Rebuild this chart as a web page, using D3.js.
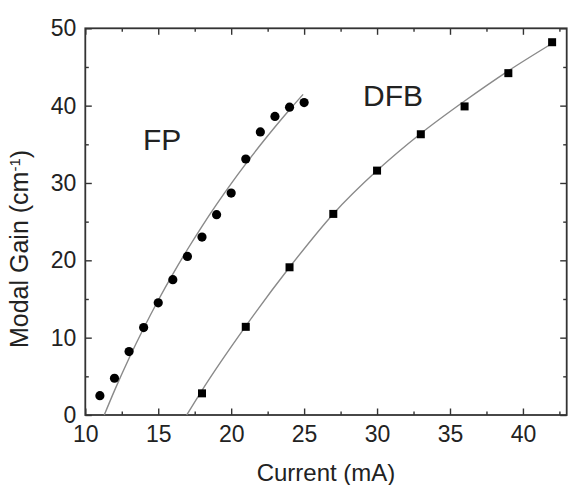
<!DOCTYPE html>
<html>
<head>
<meta charset="utf-8">
<script src="https://cdn.jsdelivr.net/npm/d3@7"></script>
<style>
  html, body { margin: 0; padding: 0; background: #fff; }
  svg { display: block; font-family: "Liberation Sans", Arial, Helvetica, sans-serif; }
</style>
</head>
<body>
<svg id="chart" width="571" height="485"></svg>
<script>
// ---- data ----
const fpCurrent = [11, 12, 13, 14, 15, 16, 17, 18, 19, 20, 21, 22, 23, 24, 25];
const fpGain    = [2.5, 4.75, 8.2, 11.3, 14.5, 17.5, 20.5, 23.0, 25.9, 28.7, 33.1, 36.6, 38.6, 39.8, 40.4];

const dfbCurrent = [18, 21, 24, 27, 30, 33, 36, 39, 42];
const dfbGain    = [2.8, 11.4, 19.1, 26.0, 31.6, 36.3, 39.9, 44.2, 48.2];

const fpFitCurrent  = [11.3, 12, 13, 14, 15, 16, 17, 18, 19, 20, 21, 22, 23, 24, 24.93];
const fpFitGain     = [0, 3.15, 7.34, 11.22, 14.84, 18.22, 21.4, 24.4, 27.23, 29.92, 32.47, 34.91, 37.24, 39.47, 41.46];
const dfbFitCurrent = [16.95, 18, 21, 24, 27, 30, 33, 36, 39, 42.05];
const dfbFitGain    = [0, 3.2, 11.5, 19.1, 26.0, 31.6, 36.4, 40.6, 44.5, 48.1];

const xTicks = [10, 15, 20, 25, 30, 35, 40];
const xMinorTicks = [12.5, 17.5, 22.5, 27.5, 32.5, 37.5, 42.5];
const yTicks = [0, 10, 20, 30, 40, 50];
const yMinorTicks = [5, 15, 25, 35, 45];

const xDomain = [10, 43];
const yDomain = [0, 50];

const seriesLabels = ["FP", "DFB"];
const xTitle = "Current (mA)";

// ---- layout ----
const svg = d3.select("#chart");
const L = 85.3, R = 566.7, T = 28.3, B = 415;
const x = d3.scaleLinear().domain(xDomain).range([L, R]);
const y = d3.scaleLinear().domain(yDomain).range([B, T]);

const axisColor = "#333";
const textColor = "#222";
const tickFont = 23;

function styleAxis(g) {
  g.select(".domain").remove();
  g.selectAll(".tick line").attr("stroke", axisColor).attr("stroke-width", 1.4);
  g.selectAll(".tick text").attr("fill", textColor).style("font-size", tickFont + "px");
}

// bottom
svg.append("g").attr("transform", `translate(0,${B})`)
  .call(d3.axisBottom(x).tickValues(xTicks).tickFormat(d3.format("d")).tickSizeInner(-6.5).tickSizeOuter(0).tickPadding(11))
  .call(styleAxis);
svg.append("g").attr("transform", `translate(0,${B})`)
  .call(d3.axisBottom(x).tickValues(xMinorTicks).tickFormat("").tickSizeInner(-3.5).tickSizeOuter(0))
  .call(styleAxis);
// top
svg.append("g").attr("transform", `translate(0,${T})`)
  .call(d3.axisTop(x).tickValues(xTicks).tickFormat("").tickSizeInner(-6.5).tickSizeOuter(0))
  .call(styleAxis);
svg.append("g").attr("transform", `translate(0,${T})`)
  .call(d3.axisTop(x).tickValues(xMinorTicks).tickFormat("").tickSizeInner(-3.5).tickSizeOuter(0))
  .call(styleAxis);
// left
svg.append("g").attr("transform", `translate(${L},0)`)
  .call(d3.axisLeft(y).tickValues(yTicks).tickFormat(d3.format("d")).tickSizeInner(-6.5).tickSizeOuter(0).tickPadding(9))
  .call(styleAxis);
svg.append("g").attr("transform", `translate(${L},0)`)
  .call(d3.axisLeft(y).tickValues(yMinorTicks).tickFormat("").tickSizeInner(-3.5).tickSizeOuter(0))
  .call(styleAxis);
// right
svg.append("g").attr("transform", `translate(${R},0)`)
  .call(d3.axisRight(y).tickValues(yTicks).tickFormat("").tickSizeInner(-6.5).tickSizeOuter(0))
  .call(styleAxis);
svg.append("g").attr("transform", `translate(${R},0)`)
  .call(d3.axisRight(y).tickValues(yMinorTicks).tickFormat("").tickSizeInner(-3.5).tickSizeOuter(0))
  .call(styleAxis);

// frame
svg.append("rect")
  .attr("x", L).attr("y", T).attr("width", R - L).attr("height", B - T)
  .attr("fill", "none").attr("stroke", axisColor).attr("stroke-width", 1.8);

// fit curves
const line = d3.line().x(d => x(d[0])).y(d => y(d[1])).curve(d3.curveMonotoneX);
const fpFit = fpFitCurrent.map((c, i) => [c, fpFitGain[i]]);
const dfbFit = dfbFitCurrent.map((c, i) => [c, dfbFitGain[i]]);
svg.append("path").datum(fpFit).attr("d", line)
  .attr("fill", "none").attr("stroke", "#8a8a8a").attr("stroke-width", 1.4);
svg.append("path").datum(dfbFit).attr("d", line)
  .attr("fill", "none").attr("stroke", "#8a8a8a").attr("stroke-width", 1.4);

// markers
const fpData = fpCurrent.map((c, i) => [c, fpGain[i]]);
const dfbData = dfbCurrent.map((c, i) => [c, dfbGain[i]]);
svg.append("g").selectAll("circle").data(fpData).join("circle")
  .attr("cx", d => x(d[0])).attr("cy", d => y(d[1])).attr("r", 4.6).attr("fill", "#000");
const sq = 8;
svg.append("g").selectAll("rect").data(dfbData).join("rect")
  .attr("x", d => x(d[0]) - sq / 2).attr("y", d => y(d[1]) - sq / 2)
  .attr("width", sq).attr("height", sq).attr("fill", "#000");

// series labels
svg.append("text").attr("x", 143).attr("y", 150).attr("fill", textColor)
  .style("font-size", "30px").text(seriesLabels[0]);
svg.append("text").attr("x", 363).attr("y", 106).attr("fill", textColor)
  .style("font-size", "30px").text(seriesLabels[1]);

// axis titles
svg.append("text").attr("x", (L + R) / 2).attr("y", 481).attr("text-anchor", "middle")
  .attr("fill", textColor).style("font-size", "24px").text(xTitle);

const yt = svg.append("text")
  .attr("transform", "translate(28,249) rotate(-90)")
  .attr("text-anchor", "middle").attr("fill", textColor).style("font-size", "25px");
yt.append("tspan").text("Modal Gain (cm");
yt.append("tspan").attr("dy", "-0.55em").style("font-size", "15px").text("-1");
yt.append("tspan").attr("dy", "0.35em").text(")");
</script>
</body>
</html>
